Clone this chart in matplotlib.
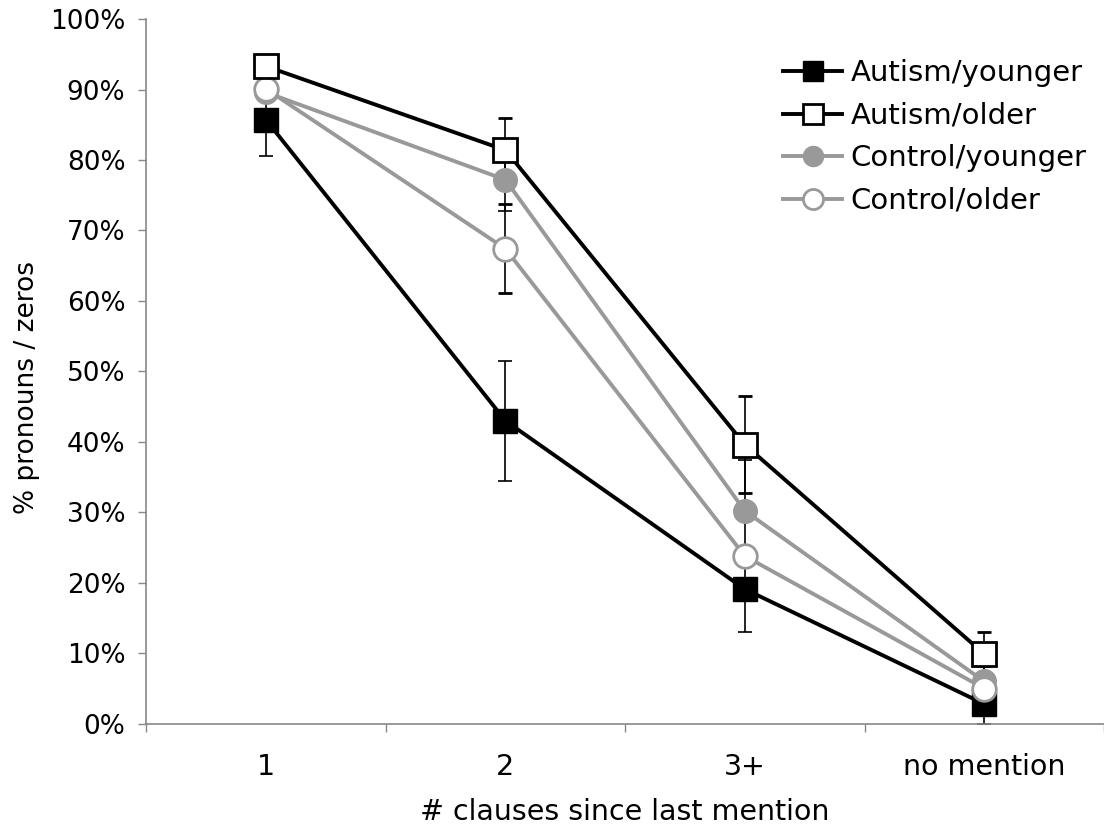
import matplotlib.pyplot as plt
import numpy as np

categories = ["1", "2", "3+", "no mention"]

autism_younger = [85.7, 43.0, 19.1, 2.8]
autism_younger_err = [5.1, 8.5, 6.1, 2.8]
autism_older = [93.3, 81.4, 39.6, 9.9]
autism_older_err = [1.0, 4.6, 6.9, 3.1]
control_younger = [89.6, 77.2, 30.2, 6.0]
control_younger_err = [1.1, 4.4, 7.3, 2.1]
control_older = [90.1, 67.4, 23.8, 5.0]
control_older_err = [1.0, 6.3, 1.2, 1.0]

plt.rcParams['font.family'] = ['DejaVu Sans']

fig = plt.figure(figsize=(11.04, 8.30), dpi=100)
ax = fig.add_axes([0.1325, 0.128, 0.8675, 0.849])

x = np.arange(len(categories))
grey = "#999999"
ms = 17
lw = 2.8

ebar = dict(ecolor="black", elinewidth=1.2, capsize=5, capthick=1.2)

c1 = ax.errorbar(x, autism_younger, yerr=autism_younger_err, color="black", lw=lw,
                 marker="s", ms=ms, mfc="black", mec="black", label="Autism/younger", **ebar)
c3 = ax.errorbar(x, control_younger, yerr=control_younger_err, color=grey, lw=lw,
                 marker="o", ms=ms, mfc=grey, mec=grey, label="Control/younger", **ebar)
c4 = ax.errorbar(x, control_older, yerr=control_older_err, color=grey, lw=lw,
                 marker="o", ms=ms, mfc="white", mec=grey, mew=2, label="Control/older", **ebar)
c2 = ax.errorbar(x, autism_older, yerr=autism_older_err, color="black", lw=lw,
                 marker="s", ms=ms, mfc="white", mec="black", mew=2, label="Autism/older", **ebar)

ax.set_xlim(-0.5, 3.5)
ax.set_ylim(0, 100)
ax.set_yticks(np.arange(0, 101, 10))
ax.set_yticklabels([f"{v}%" for v in range(0, 101, 10)])
ax.set_xticks(x)
ax.set_xticklabels(categories)
ax.set_xticks(np.arange(-0.5, 3.6, 1), minor=True)
ax.tick_params(axis="x", which="major", length=0, pad=21, labelsize=20.5)
ax.tick_params(axis="x", which="minor", length=6, color="#888888", width=1)
ax.tick_params(axis="y", length=6, color="#888888", width=1, labelsize=19, pad=9)

for s in ["top", "right"]:
    ax.spines[s].set_visible(False)
for s in ["left", "bottom"]:
    ax.spines[s].set_color("#888888")
    ax.spines[s].set_linewidth(1.2)

ax.set_xlabel("# clauses since last mention", fontsize=20.5, labelpad=12)
ax.set_ylabel("% pronouns / zeros", fontsize=19)
ax.yaxis.set_label_coords(-0.111, 0.477)

handles = [c1[0], c2[0], c3[0], c4[0]]
labels = ["Autism/younger", "Autism/older", "Control/younger", "Control/older"]
ax.legend(handles, labels, loc="upper right", bbox_to_anchor=(1.003, 0.972),
          frameon=False, fontsize=21, handlelength=2.0, labelspacing=0.5,
          handletextpad=0.3, markerscale=0.85, borderaxespad=0.3)

fig.savefig("out.png", dpi=100)
